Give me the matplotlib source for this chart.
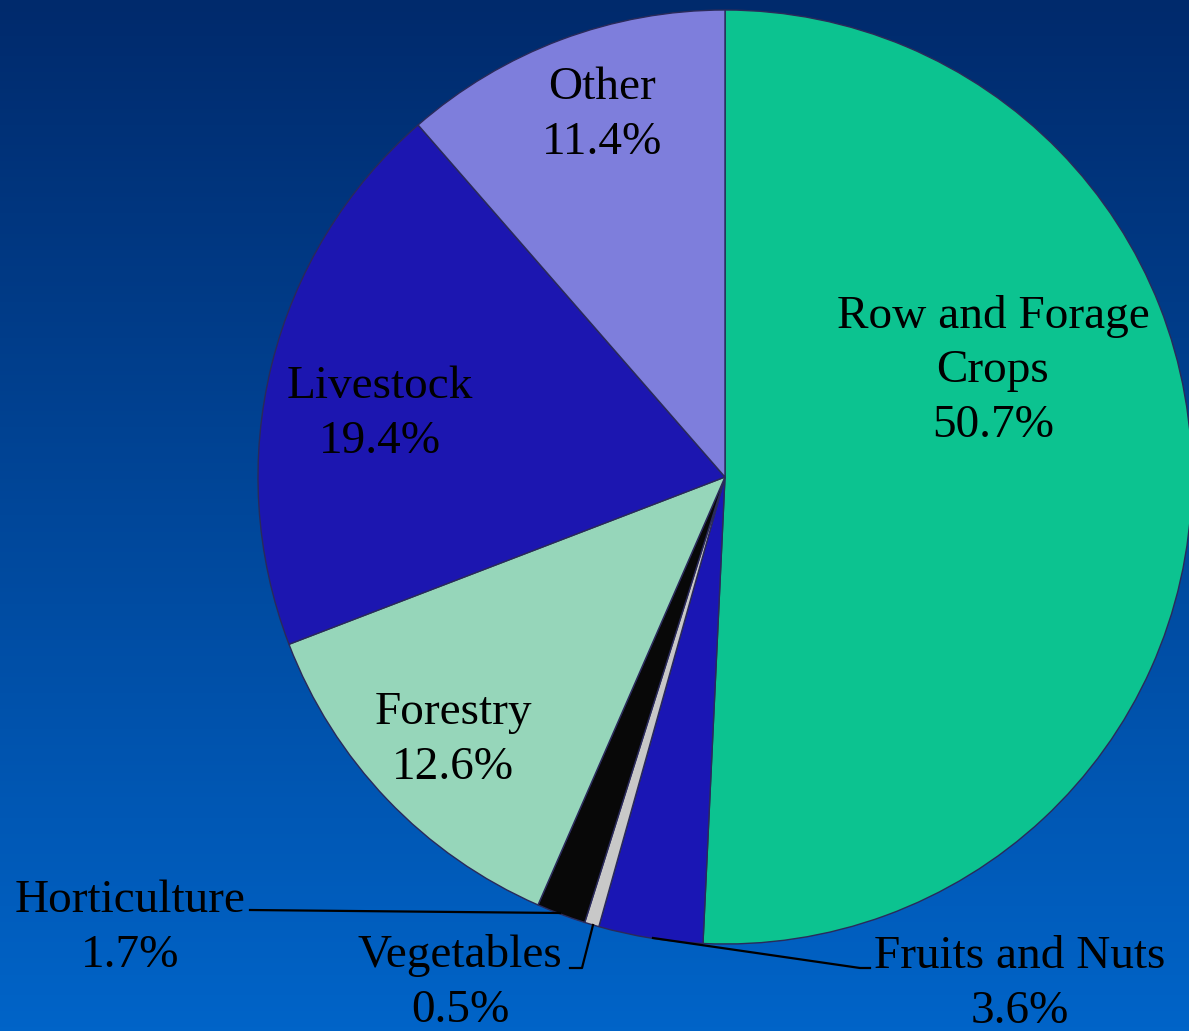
import numpy as np
import matplotlib
matplotlib.use("Agg")
import matplotlib.pyplot as plt
from matplotlib.colors import LinearSegmentedColormap

# Дані діаграми (за годинниковою стрілкою від верху)
categories = ["Row and Forage\nCrops", "Fruits and Nuts", "Vegetables", "Horticulture",
              "Forestry", "Livestock", "Other"]
shares = [50.7, 3.6, 0.5, 1.7, 12.6, 19.4, 11.4]
slice_colors = ["#0cc390", "#1a16b4", "#c8c8c8", "#080808", "#96d6ba", "#1c16b0", "#7e7edc"]

W, H = 1189, 1031
fig = plt.figure(figsize=(W / 100, H / 100), dpi=100)

# Фон з градієнтом
bg = fig.add_axes([0, 0, 1, 1])
grad = np.linspace(0, 1, 256).reshape(-1, 1)
cmap = LinearSegmentedColormap.from_list("bg", ["#002a6c", "#0064c8"])
bg.imshow(grad, aspect="auto", cmap=cmap, extent=[0, 1, 0, 1], origin="upper")
bg.set_axis_off()

ax = fig.add_axes([0, 0, 1, 1])
ax.patch.set_alpha(0)

cx, cy, r = 725, H - 477, 467
wedges, _ = ax.pie(shares, colors=slice_colors, startangle=90, counterclock=False,
                   center=(cx, cy), radius=r, frame=True,
                   wedgeprops=dict(edgecolor="#2a2a5a", linewidth=1.0))
ax.set_xlim(0, W)
ax.set_ylim(0, H)
ax.set_aspect("equal")
ax.set_axis_off()

font = dict(family="Liberation Serif", fontsize=34, color="black",
            ha="center", va="center", linespacing=1.37)

def py(y):
    return H - y

# Підписи всередині секторів
ax.text(993, py(371), f"{categories[0]}\n{shares[0]}%", **font)
ax.text(602, py(115), f"{categories[6]}\n{shares[6]}%", **font)
ax.text(380, py(414), f"{categories[5]}\n{shares[5]}%", **font)
ax.text(453, py(740), f"{categories[4]}\n{shares[4]}%", **font)

# Підписи з виносками
ax.text(130, py(928), f"{categories[3]}\n{shares[3]}%", **font)
ax.text(460, py(983), f"{categories[2]}\n{shares[2]}%", **font)
ax.text(1020, py(984), f"{categories[1]}\n{shares[1]}%", **font)

line = dict(color="black", linewidth=1.6)
ax.plot([250, 560], [py(910), py(913)], **line)
ax.plot([593, 582, 570], [py(925), py(968), py(968)], **line)
ax.plot([653, 860, 870], [py(938), py(968), py(968)], **line)

fig.savefig("out.png", dpi=100)
